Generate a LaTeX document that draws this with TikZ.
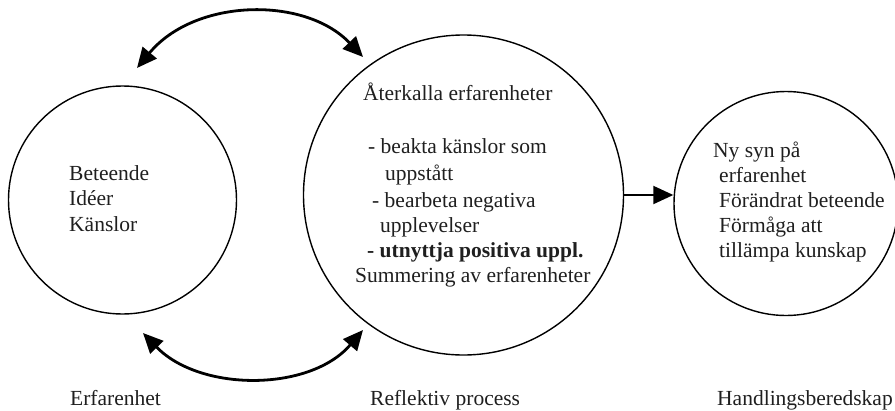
\documentclass[tikz,border=0pt]{standalone}
\usepackage{fontspec}
\setmainfont{Liberation Serif}
\usetikzlibrary{arrows.meta}
\begin{document}
\begin{tikzpicture}[x=1pt,y=-1pt,
  ring/.style={draw, circle, line width=1.4pt, inner sep=0pt},
  txt/.style={anchor=base west, inner sep=0pt, text=black!88,
              font=\fontsize{21.5}{25}\selectfont},
  caption/.style={txt},
  swing/.style={line width=2.8pt, {Triangle[length=20pt,width=18pt]}-{Triangle[length=20pt,width=18pt]}},
  push/.style={line width=2pt, -{Triangle[length=20pt,width=18pt]}}]
\useasboundingbox (0,0) rectangle (895,410);

% three stages
\node[ring, minimum size=228pt] (exp) at (122.5,200) {};
\node[ring, minimum size=320pt] (refl) at (463.5,195) {};
\node[ring, minimum size=224pt] (ready) at (786,203.5) {};

% contents of the experience circle
\node[txt] (e1) at (69,180) {Beteende};
\node[txt] (e2) at (69,205) {Idéer};
\node[txt] (e3) at (69,231) {Känslor};

% contents of the reflection circle
\node[txt] (r1) at (363,100) {Återkalla erfarenheter};
\node[txt] (r2) at (368,153) {- beakta känslor som};
\node[txt] (r3) at (385,180) {uppstått};
\node[txt] (r4) at (372,207) {- bearbeta negativa};
\node[txt] (r5) at (380,232) {upplevelser};
\node[txt, font=\fontsize{21.5}{25}\selectfont\bfseries] (r6) at (367,257) {- utnyttja positiva uppl.};
\node[txt] (r7) at (355,282) {Summering av erfarenheter};

% contents of the readiness circle
\node[txt] (h1) at (713,157) {Ny syn på};
\node[txt] (h2) at (719,182) {erfarenhet};
\node[txt] (h3) at (719,207) {Förändrat beteende};
\node[txt] (h4) at (719,232) {Förmåga att};
\node[txt] (h5) at (719,257) {tillämpa kunskap};

% captions
\node[caption] (c1) at (70,405) {Erfarenhet};
\node[caption] (c2) at (370,405) {Reflektiv process};
\node[caption] (c3) at (717,405) {Handlingsberedskap};

% two-way arcs between experience and reflection
\coordinate (tl) at (137,68);
\coordinate (tr) at (363,57);
\coordinate (bl) at (143,333);
\coordinate (br) at (363,330);
\draw[swing] (tl) .. controls (195,-2) and (305,-4) .. (tr);
\draw[swing] (bl) .. controls (200,392) and (310,392) .. (br);

% reflection leads to readiness
\draw[push] (refl.east) -- (ready.west |- refl.east);
\end{tikzpicture}
\end{document}
